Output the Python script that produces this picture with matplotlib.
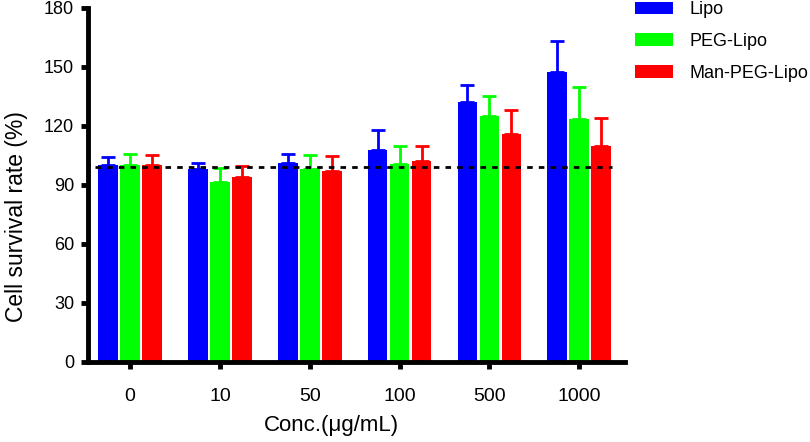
import numpy as np
import matplotlib.pyplot as plt
from matplotlib.patches import Patch

plt.rcParams['font.family'] = ['Liberation Sans', 'DejaVu Sans']

# data
concs = ['0', '10', '50', '100', '500', '1000']
series = ['Lipo', 'PEG-Lipo', 'Man-PEG-Lipo']
colors = ['#0000ff', '#00ff00', '#ff0000']
lipo = [100, 98, 101, 108, 132, 147.5]
lipo_err = [4, 3, 4.7, 10, 9, 15.5]
peg = [100, 91.5, 98, 100.5, 125, 123.5]
peg_err = [5.7, 7, 7, 9.5, 10, 16.5]
man = [100, 94, 97, 102, 116, 110]
man_err = [5, 5.7, 7.7, 8, 12, 14]
baseline = 99

fig = plt.figure(figsize=(8.1, 4.42), dpi=100)
ax = fig.add_axes([0.1086, 0.181, 0.663, 0.801])

x = np.arange(len(concs))
width = 0.22
offsets = [-0.245, 0, 0.245]
for vals, errs, c, off in zip([lipo, peg, man], [lipo_err, peg_err, man_err], colors, offsets):
    ax.bar(x + off, vals, width, color=c, edgecolor='none', zorder=2)
    ax.errorbar(x + off, vals, yerr=[np.zeros(len(errs)), errs], fmt='none',
                ecolor=c, elinewidth=2, capsize=5, capthick=2, zorder=1)

ax.plot([-0.39, 5.37], [baseline, baseline], color='black', linestyle=(0, (2, 2.2)),
        linewidth=2, zorder=3)

ax.set_xlim(-0.47, 5.51)
ax.set_ylim(0, 180)
ax.set_yticks(np.arange(0, 181, 30))
ax.set_xticks(x)
ax.set_xticklabels(concs)
ax.tick_params(axis='both', width=3.5, length=5, direction='out')
ax.tick_params(axis='y', labelsize=13, pad=5)
ax.tick_params(axis='x', labelsize=14, pad=14)
for s in ['top', 'right']:
    ax.spines[s].set_visible(False)
for s in ['left', 'bottom']:
    ax.spines[s].set_linewidth(3.5)

ax.set_ylabel('Cell survival rate (%)', fontsize=16.5)
ax.yaxis.set_label_coords(-0.112, 0.412)
ax.set_xlabel('Conc.(μg/mL)', fontsize=16)
ax.xaxis.set_label_coords(0.454, -0.150)

handles = [Patch(facecolor=c, edgecolor='none') for c in colors]
fig.legend(handles, series, loc='upper left', bbox_to_anchor=(0.784, 0.997),
           frameon=False, fontsize=13, handlelength=2.1, handleheight=0.72,
           handletextpad=0.9, labelspacing=0.82, borderpad=0, borderaxespad=0)

fig.savefig('out.png', dpi=100)
